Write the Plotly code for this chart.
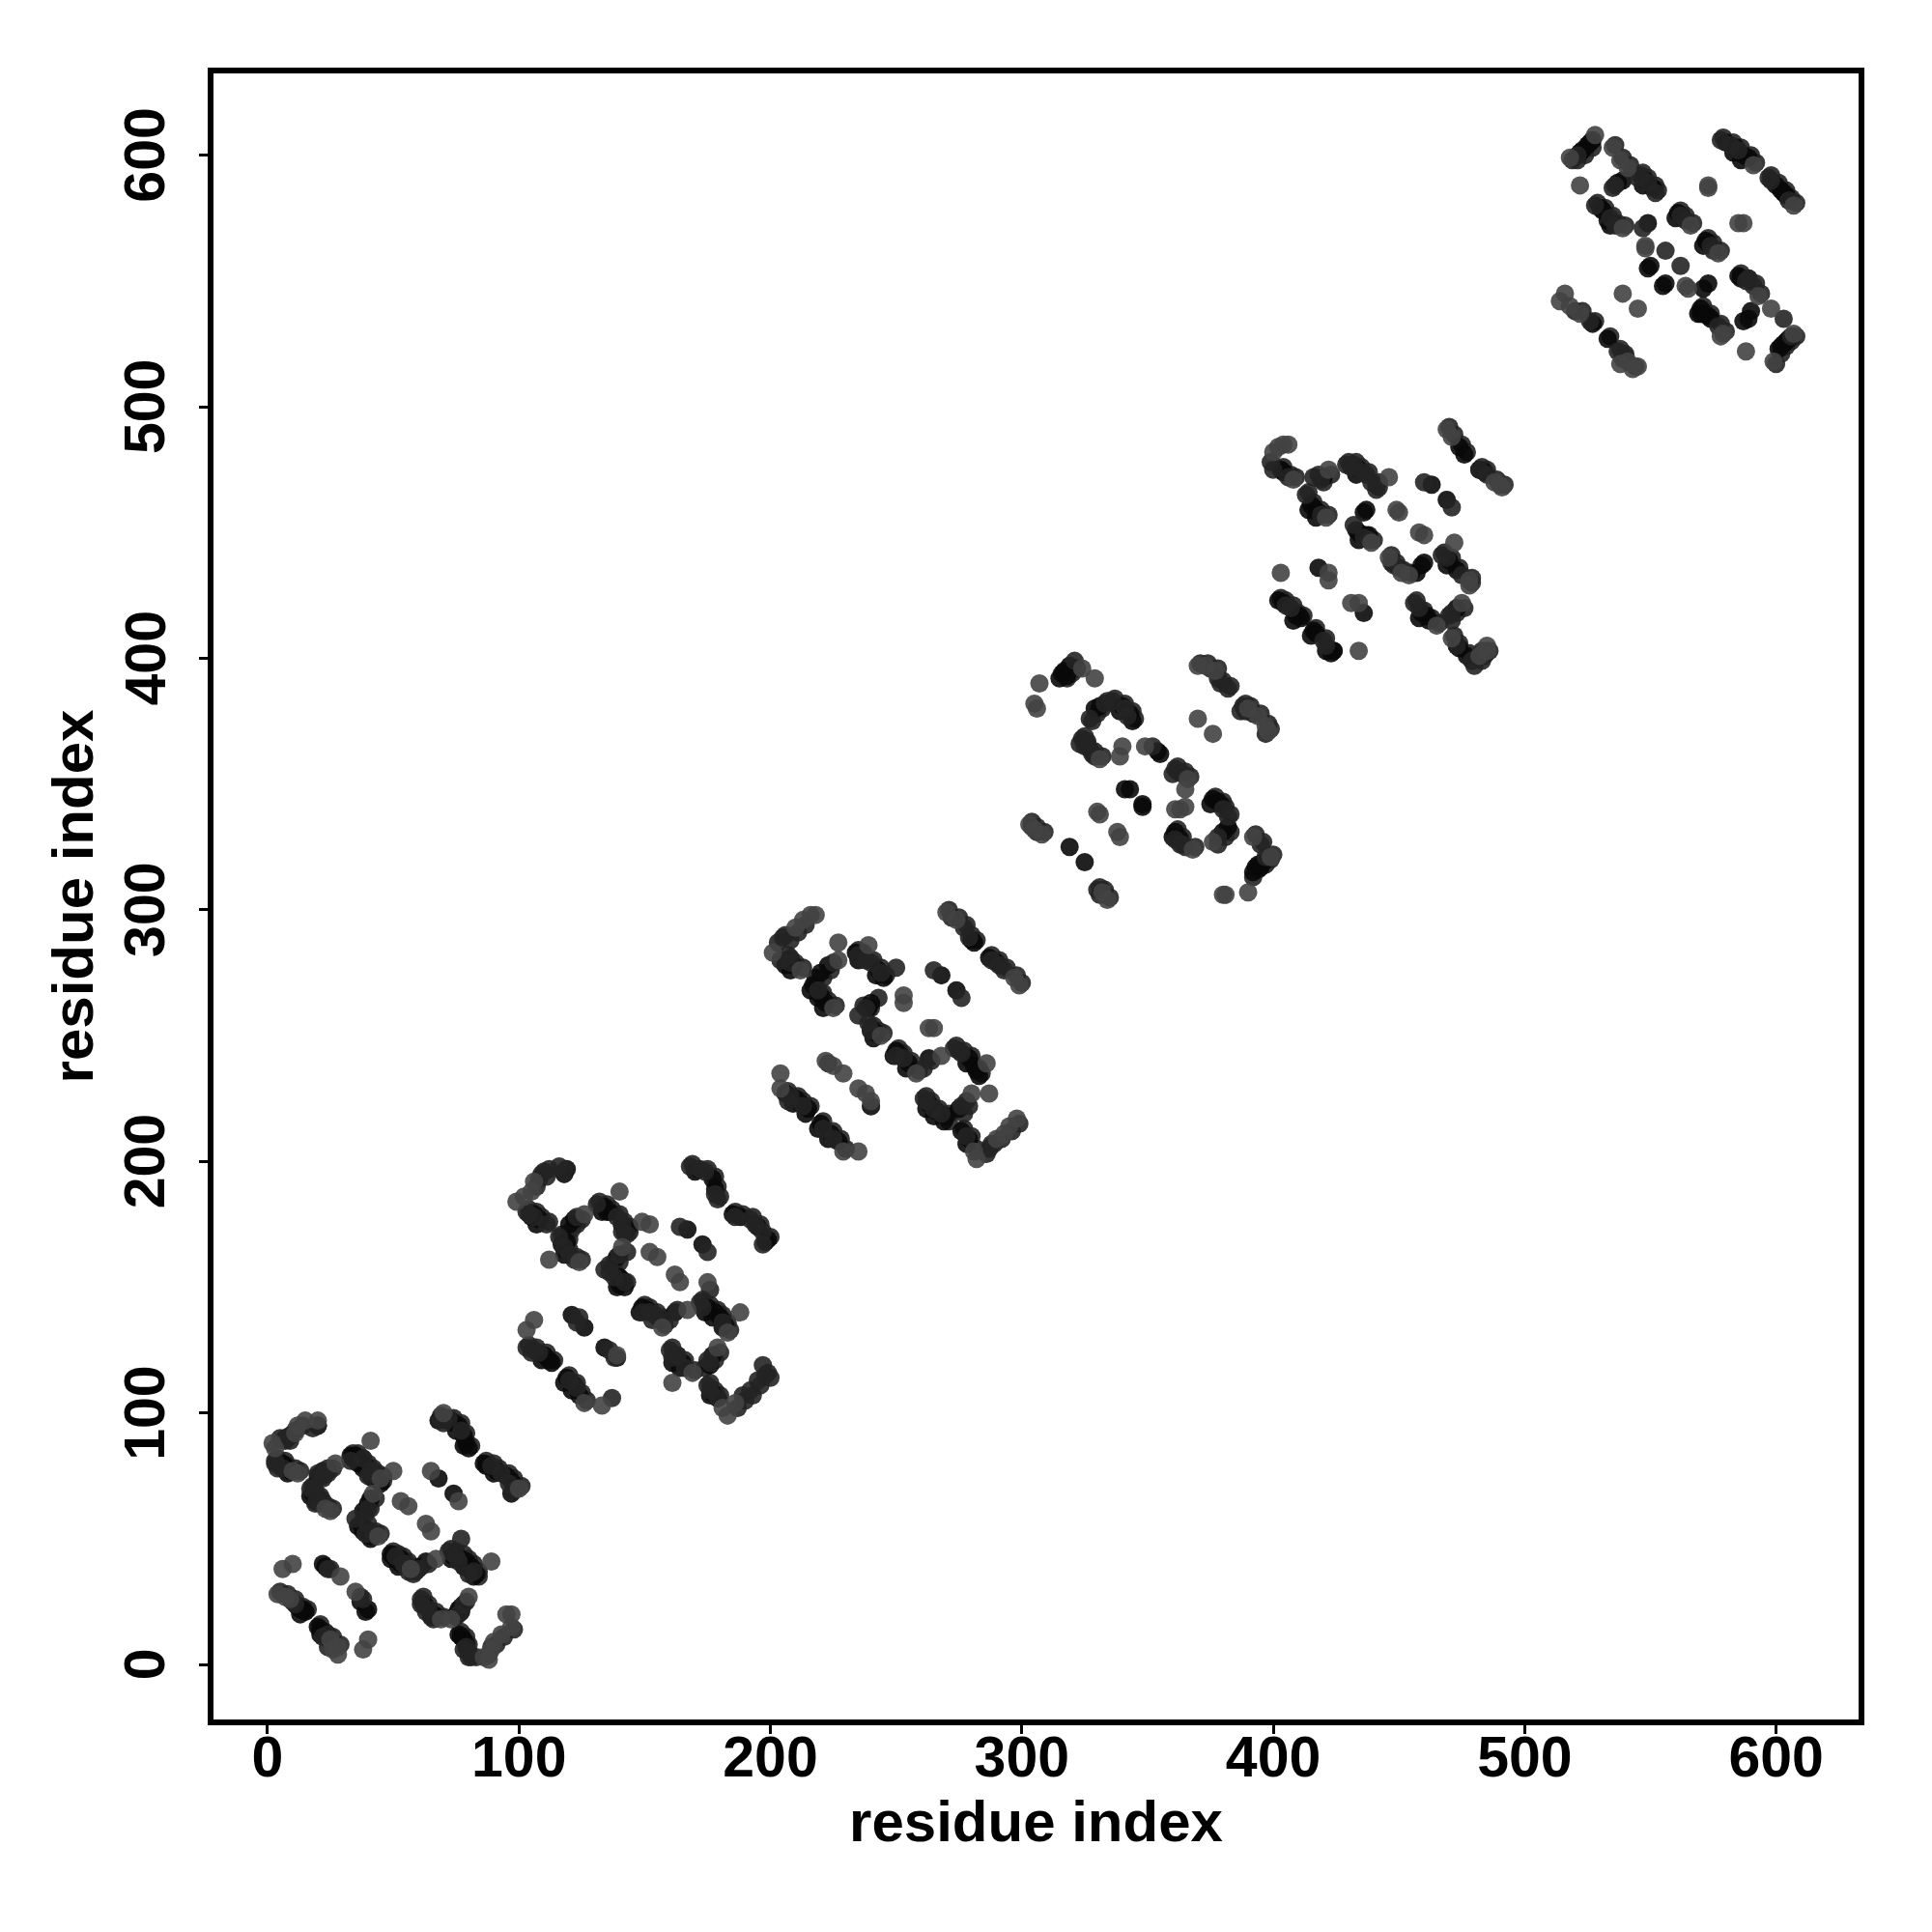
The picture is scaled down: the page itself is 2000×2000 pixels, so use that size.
import plotly.graph_objects as go

# Contacts, grouped by grey tone, one group per domain.
dark1 = [(20,95),(6,80),(5,79),(7,79),(9,77),(8,76),(7,90),(9,91),(20,75),(22,77),(21,75),(18,68),(19,65),(20,66),(17,67),(33,83),(35,83),(34,82),(36,82),(37,81),(36,80),(39,79),(38,78),(43,75),(42,74),(45,72),(41,75),(40,64),(41,66),(38,61),(37,56),(36,55),(38,55),(39,54),(38,53),(40,53),(41,50),(49,44),(50,43),(49,42),(51,42),(53,42),(53,40),(52,39),(63,41),(61,39),(74,43),(73,42),(77,42),(79,41),(78,39),(81,39),(83,36),(82,35),(80,38),(63,23),(62,24),(66,20),(67,19),(65,19),(76,22),(75,20),(77,21),(76,12),(78,10),(77,11),(79,8),(68,97),(73,97),(74,96),(76,95),(75,93),(78,91),(80,86),(79,88),(78,87),(86,80),(87,79),(91,77),(90,76),(95,75),(97,73),(97,68),(68,74),(74,68),(22,40),(23,39),(37,25),(40,22),(39,21),(13,22),(15,21),(12,23),(14,22),(13,20),(20,15),(21,14),(22,13),(21,12)]
mid1 = [(20,95),(8,90),(5,90),(7,89),(9,91),(3,81),(3,80),(6,78),(4,78),(24,78),(22,75),(23,76),(20,76),(17,70),(18,70),(21,64),(21,66),(19,64),(38,82),(41,77),(42,77),(44,75),(40,75),(33,81),(40,62),(35,58),(42,52),(40,56),(39,52),(51,43),(55,40),(54,40),(58,36),(56,37),(60,38),(64,40),(72,45),(76,41),(75,43),(77,50),(80,36),(82,37),(61,26),(61,24),(63,21),(64,22),(66,18),(78,24),(76,20),(79,7),(81,3),(78,6),(80,5),(72,98),(69,98),(70,96),(77,93),(89,79),(93,76),(96,72),(99,70),(24,38),(25,38),(37,27),(38,26),(10,25),(11,24),(24,12),(22,11),(24,7),(80,3),(83,3)]
light1 = [(41,89),(15,97),(12,95),(11,92),(2,88),(3,86),(20,97),(12,76),(10,77),(27,80),(25,61),(23,62),(45,74),(42,68),(44,51),(57,38),(67,42),(50,77),(89,41),(69,18),(73,18),(80,27),(88,2),(86,3),(89,6),(90,9),(93,12),(97,15),(97,20),(95,20),(28,7),(28,4),(25,10),(26,6),(40,10),(38,6),(6,38),(10,40),(29,35),(35,29),(4,28),(7,27),(9,26),(100,70),(70,100),(65,77),(76,65),(53,65),(56,63),(63,56),(65,53)]
extra1 = [(34,84),(36,84),(38,82),(40,80),(42,78),(44,76),(46,75),(46,73),(41,51),(43,53),(45,52),(50,45),(52,44),(54,43),(56,41),(58,39),(59,37),(73,46),(75,45),(78,44),(80,42),(82,40),(84,37),(84,35),(62,27),(64,24),(67,21),(70,19),(71,97),(69,99),(74,98),(77,96),(79,92),(81,87),(87,81),(90,80),(92,78),(96,76),(98,74),(101,71),(5,29),(8,28),(11,26),(14,23),(16,22),(21,16),(23,13),(26,11),(29,8),(18,71),(19,69),(21,67),(22,65),(24,63),(26,62),(77,13),(79,11),(80,8),(4,82),(7,81),(8,79),(11,78),(13,77),(18,94),(14,95),(11,93),(9,89),(22,74),(24,76),(26,78),(39,60),(41,62),(43,66),(75,19),(77,23),(79,25),(88,4),(89,7),(91,8),(94,11),(98,14)]

dark2 = [(119,197),(118,195),(106,179),(105,178),(108,177),(107,175),(120,175),(122,177),(119,168),(117,167),(119,164),(118,163),(134,182),(135,180),(133,180),(136,180),(143,173),(142,172),(141,175),(139,162),(140,151),(139,150),(142,150),(141,152),(140,154),(149,142),(148,140),(151,141),(156,137),(162,140),(175,142),(174,140),(178,140),(177,138),(180,138),(182,135),(181,134),(162,122),(161,120),(165,120),(164,118),(177,123),(176,119),(177,108),(176,107),(179,106),(170,196),(177,193),(178,189),(185,179),(188,178),(195,174),(199,169),(198,168),(167,173),(173,167),(121,139),(126,134),(134,126),(139,122),(110,123),(109,121),(113,120),(112,121),(119,114),(118,112),(122,111),(121,109),(124,107)]
mid2 = [(116,198),(112,197),(109,195),(110,196),(118,196),(103,180),(106,178),(104,179),(111,175),(123,178),(116,170),(118,166),(122,161),(120,163),(131,183),(139,178),(141,175),(143,171),(141,172),(136,159),(134,157),(136,156),(138,154),(142,152),(140,163),(154,139),(153,137),(149,140),(152,140),(160,137),(163,141),(172,144),(173,142),(176,149),(181,136),(160,125),(161,122),(163,123),(166,118),(175,121),(176,120),(175,111),(176,109),(179,106),(189,107),(192,109),(195,113),(199,116),(198,115),(197,119),(168,198),(172,197),(174,196),(178,187),(179,185),(186,178),(192,177),(194,175),(197,172),(197,167),(164,174),(175,164),(124,138),(123,136),(136,125),(138,122),(103,126),(105,124),(106,125),(108,124),(120,113),(123,110),(137,106)]
light2 = [(140,188),(152,175),(149,176),(112,161),(126,179),(124,160),(103,133),(106,137),(99,184),(102,186),(105,188),(106,192),(141,166),(157,134),(167,141),(175,152),(188,140),(161,112),(169,116),(179,126),(183,99),(181,102),(186,104),(152,164),(155,162),(162,155),(164,152),(139,123),(126,104),(133,103),(183,132)]
extra2 = [(132,184),(135,183),(137,181),(140,179),(142,176),(144,174),(144,172),(143,152),(141,153),(139,155),(150,143),(152,142),(155,140),(157,138),(158,135),(173,145),(176,143),(179,141),(181,139),(183,136),(184,133),(161,126),(163,123),(166,121),(170,117),(169,199),(171,197),(175,197),(178,194),(179,190),(180,186),(186,180),(189,179),(193,178),(196,175),(200,170),(104,127),(107,126),(111,124),(114,121),(120,115),(123,112),(125,108),(127,105),(117,171),(120,169),(120,165),(123,162),(125,161),(104,181),(107,180),(109,178),(112,176),(176,112),(178,109),(180,107),(107,190),(108,193),(111,194),(121,173),(123,175),(125,177),(138,160),(140,160),(143,164),(174,118),(178,121),(180,124),(187,102),(190,105),(193,107),(196,111),(200,114)]

dark3 = [(207,280),(206,278),(209,278),(208,276),(220,275),(223,278),(217,270),(216,268),(220,266),(219,265),(222,263),(221,261),(234,283),(236,282),(235,280),(243,276),(242,274),(245,273),(240,263),(239,261),(242,251),(241,249),(240,253),(240,252),(250,244),(249,242),(252,242),(255,239),(254,237),(263,241),(279,241),(278,239),(282,236),(281,238),(263,223),(262,221),(266,220),(265,218),(270,218),(269,216),(275,221),(279,209),(278,207),(276,212),(280,288),(281,287),(287,281),(290,279),(268,274),(274,268),(206,227),(210,225),(209,223),(212,223),(215,221),(214,219),(220,215),(219,213),(224,211),(223,209),(227,208),(240,222),(283,234)]
mid3 = [(206,290),(205,289),(203,287),(207,282),(208,279),(204,280),(225,279),(219,268),(235,282),(240,279),(238,280),(244,275),(238,261),(235,258),(240,252),(239,255),(250,242),(253,241),(261,237),(264,240),(273,245),(275,244),(276,243),(262,224),(261,225),(265,221),(268,219),(278,224),(276,222),(278,210),(287,205),(288,207),(272,297),(277,293),(279,289),(288,280),(291,278),(293,276),(265,276),(250,277),(276,265),(223,239),(213,222),(208,226),(207,224),(221,213),(225,209),(240,222)]
light3 = [(216,298),(218,298),(213,296),(210,293),(201,283),(212,276),(227,280),(227,287),(239,286),(225,261),(244,250),(258,235),(268,242),(286,239),(287,227),(280,227),(282,201),(281,204),(298,217),(295,214),(293,211),(290,209),(270,299),(274,296),(299,270),(297,273),(253,266),(253,263),(263,253),(265,253),(204,235),(204,229),(222,240),(225,238),(229,235),(235,229),(238,227),(240,224),(229,204),(235,204)]
extra3 = [(235,284),(237,283),(241,280),(244,277),(246,274),(241,254),(243,252),(245,251),(251,245),(253,243),(256,240),(259,236),(274,246),(277,244),(280,242),(283,237),(284,235),(262,226),(264,224),(267,221),(271,219),(271,300),(275,297),(278,294),(280,290),(282,288),(288,282),(291,280),(294,277),(298,274),(300,271),(207,228),(211,226),(213,224),(216,222),(221,216),(225,212),(228,209),(230,205),(218,271),(221,267),(223,264),(226,262),(208,281),(210,279),(213,277),(277,213),(280,210),(282,205),(208,288),(211,291),(214,294),(218,273),(221,273),(224,276),(237,262),(240,261),(243,265),(271,216),(277,219),(279,222),(286,203),(289,207),(292,209),(296,212),(299,215)]

dark4 = [(317,395),(315,392),(316,394),(318,393),(319,397),(329,380),(331,381),(340,381),(339,379),(343,378),(344,375),(354,363),(355,362),(376,344),(375,342),(378,343),(379,342),(380,331),(382,333),(396,319),(393,317),(392,315),(395,317),(394,318),(341,348),(343,348),(348,342),(348,341),(325,319),(319,325),(361,331),(360,329),(363,328)]
mid4 = [(321,399),(327,376),(333,382),(336,383),(341,380),(342,377),(324,368),(325,365),(323,366),(328,362),(327,364),(326,367),(329,361),(352,365),(361,356),(360,354),(364,354),(362,355),(380,340),(382,337),(378,329),(361,328),(364,326),(365,325),(363,326),(379,390),(382,388),(378,392),(375,396),(388,381),(387,379),(389,379),(392,378),(397,370),(395,326),(306,331),(304,333),(330,308),(331,306),(397,321)]
light4 = [(307,390),(305,382),(306,380),(324,396),(329,392),(331,360),(340,365),(339,361),(349,365),(365,348),(366,352),(361,340),(363,340),(365,341),(368,324),(376,327),(392,329),(399,321),(370,397),(373,397),(377,395),(370,376),(376,370),(398,371),(397,373),(394,377),(390,380),(330,339),(331,338),(338,331),(339,329),(303,334),(305,332),(308,330),(334,304),(332,307),(381,306),(380,306),(390,307)]
extra4 = [(334,383),(337,384),(341,382),(344,379),(345,376),(325,369),(326,366),(329,363),(332,361),(371,398),(374,398),(378,396),(380,391),(383,389),(389,382),(391,381),(395,378),(398,374),(399,372),(377,345),(380,343),(381,341),(383,338),(362,332),(364,329),(369,325),(362,329),(304,335),(306,333),(309,331),(331,309),(333,308),(335,305),(393,330),(396,327),(400,322),(362,357),(365,355),(367,353),(318,392),(320,394),(322,396),(328,375),(330,378),(332,380),(378,326),(381,329),(383,331),(392,313),(394,316),(397,318),(399,320)]

dark5 = [(403,475),(404,474),(420,472),(415,461),(414,459),(416,460),(418,458),(417,456),(434,475),(433,473),(437,459),(436,458),(438,449),(433,451),(434,450),(435,449),(434,447),(459,437),(460,438),(457,434),(473,435),(470,439),(469,437),(459,418),(458,416),(462,415),(461,417),(473,420),(474,404),(473,405),(477,401),(474,484),(476,481),(482,475),(484,474),(463,469),(469,463),(418,436),(436,418),(402,423),(404,422),(409,417),(408,415),(411,416),(410,417),(416,411),(415,409),(417,410),(423,402),(424,403),(421,403)]
mid5 = [(399,478),(400,475),(406,472),(419,471),(416,472),(413,465),(419,457),(429,477),(431,476),(432,477),(435,474),(437,473),(439,470),(441,469),(441,467),(432,453),(436,448),(438,447),(447,438),(448,437),(450,436),(467,441),(469,440),(475,433),(456,422),(458,420),(470,417),(471,418),(479,399),(473,405),(483,403),(482,475),(485,473),(460,470),(471,460),(405,421),(407,420),(420,407),(421,405)]
light5 = [(406,485),(404,485),(402,484),(400,482),(408,471),(422,475),(421,456),(446,472),(439,446),(446,440),(454,433),(451,434),(472,446),(478,429),(478,431),(465,413),(475,422),(471,408),(485,405),(485,403),(482,401),(469,491),(471,488),(488,470),(491,468),(490,469),(449,459),(450,458),(458,450),(460,449),(403,434),(422,434),(422,431),(431,422),(434,422),(434,403)]
extra5 = [(430,478),(433,478),(435,476),(438,474),(442,470),(442,468),(447,441),(449,438),(452,435),(455,434),(468,442),(471,440),(474,436),(479,432),(479,430),(457,423),(460,419),(463,416),(466,414),(472,409),(474,406),(478,402),(470,492),(472,489),(475,485),(477,482),(483,476),(485,475),(489,471),(492,469),(403,424),(405,423),(408,421),(410,418),(412,417),(417,412),(421,408),(424,403),(414,466),(416,462),(419,459),(422,457),(404,476),(407,473),(409,472),(437,449),(440,447),(418,473),(420,470),(423,473),(471,415),(473,418),(476,420),(480,397),(483,399),(484,401),(486,403)]

dark6 = [(527,606),(526,605),(525,604),(523,602),(522,601),(539,590),(537,589),(549,573),(550,556),(549,555),(556,549),(555,548),(571,547),(573,549),(561,577),(560,575),(563,575),(572,566),(571,564),(573,565),(531,578),(533,574),(535,573),(530,579),(534,572),(585,552),(586,551),(570,539),(569,537),(571,537),(573,536),(574,535),(570,537),(590,538),(587,534),(589,535),(605,527),(603,525),(602,524),(601,523),(604,526),(580,605),(584,603),(583,601),(587,600),(586,598),(589,599),(600,588),(603,585),(604,584),(602,586),(527,533),(533,527),(548,590),(547,588),(551,587)]
mid6 = [(521,600),(536,588),(535,587),(546,592),(545,591),(549,589),(528,580),(534,575),(536,572),(547,571),(556,562),(562,556),(562,576),(564,574),(574,564),(575,562),(591,548),(589,551),(588,550),(577,532),(603,535),(606,528),(552,585),(578,606),(582,604),(585,602),(597,591),(598,590),(605,582),(520,538),(526,534),(537,522),(539,519),(540,521)]
light6 = [(528,608),(518,599),(535,603),(538,598),(541,595),(522,588),(573,587),(573,588),(539,571),(566,572),(587,573),(585,573),(548,564),(548,563),(577,561),(564,548),(565,547),(593,544),(598,539),(579,529),(578,528),(588,522),(607,529),(599,518),(591,596),(607,580),(539,545),(545,539),(516,545),(514,542),(518,540),(522,537),(543,515),(545,516),(541,518),(538,517)]
extra6 = [(529,581),(532,579),(535,576),(537,573),(540,572),(547,593),(549,591),(552,588),(553,586),(562,578),(564,576),(567,573),(573,567),(575,565),(578,562),(586,553),(589,551),(592,549),(594,545),(571,540),(574,537),(578,533),(580,530),(579,607),(583,605),(586,603),(590,600),(592,597),(598,592),(601,589),(604,586),(606,583),(608,581),(523,538),(528,534),(534,528),(538,523),(540,520),(544,516),(519,598),(521,598),(524,600),(527,603),(600,517),(602,521),(604,524),(606,526),(608,528),(536,604),(539,599),(542,596)]

tick_values = [0, 100, 200, 300, 400, 500, 600]
axis_title = "residue index"

dark = dark1 + dark2 + dark3 + dark4 + dark5 + dark6
mid = mid1 + mid2 + mid3 + mid4 + mid5 + mid6
light = light1 + light2 + light3 + light4 + light5 + light6
extra = extra1 + extra2 + extra3 + extra4 + extra5 + extra6

fig = go.Figure()
for group, colour in [(extra, "rgba(36,36,36,0.9)"), (dark, "rgba(9,9,9,0.9)"), (mid, "rgba(36,36,36,0.9)"), (light, "rgba(66,66,66,0.9)")]:
    fig.add_trace(go.Scatter(
        x=[p[0] for p in group], y=[p[1] for p in group], mode="markers",
        marker=dict(size=19, color=colour, line=dict(width=0)),
        hoverinfo="skip", showlegend=False,
    ))
font = dict(family="Liberation Sans", size=59, color="black", weight="bold")
title_font = dict(family="Liberation Sans", size=60, color="black", weight="bold")
common = dict(
    tickvals=tick_values, ticks="outside", ticklen=9, tickwidth=3, tickcolor="black",
    showline=True, linewidth=6, linecolor="black", mirror=True,
    showgrid=False, zeroline=False, tickfont=font, automargin=False,
)
fig.update_xaxes(range=[-21.5, 632.8], ticklabelstandoff=-27,
                 title=dict(text=axis_title, font=title_font, standoff=14), **common)
fig.update_yaxes(range=[-21.8, 632.5], showticklabels=False,
                 title=dict(text=axis_title, font=title_font, standoff=92), **common)
# y tick labels are centred on their ticks, as in the reference
for v in tick_values:
    fig.add_annotation(x=0, xref="paper", y=v, yref="y", text=str(v), textangle=-90,
                       showarrow=False, xanchor="center", yanchor="middle", xshift=-71,
                       font=font)
fig.update_layout(
    width=2000, height=2000, autosize=False,
    plot_bgcolor="white", paper_bgcolor="white",
    margin=dict(l=213, r=84, t=68, b=228),
)
fig.write_html("out.html")
